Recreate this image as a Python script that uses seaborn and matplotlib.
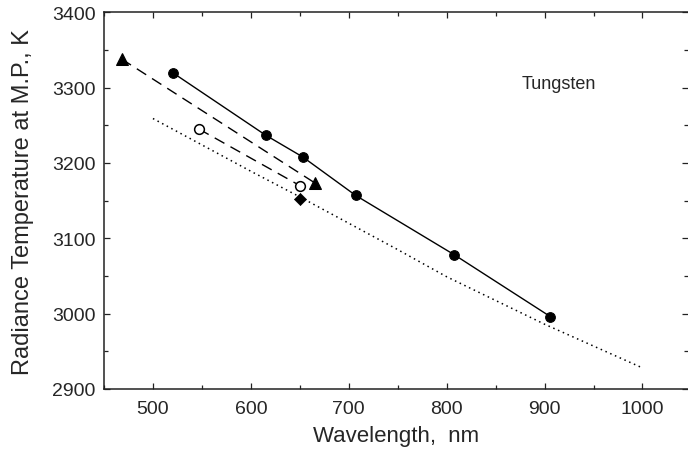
import matplotlib
matplotlib.use("Agg")
import matplotlib.pyplot as plt
from matplotlib.ticker import MultipleLocator
import seaborn as sns
import pandas as pd

# ---- data ----
solid_wl = [520, 615, 653, 707, 808, 906]
solid_t = [3320, 3237, 3208, 3157, 3078, 2996]

tri_wl = [468, 666]
tri_t = [3338, 3173]

open_wl = [547, 650]
open_t = [3245, 3170]

diamond_wl = [650]
diamond_t = [3152]

dot_wl = [500, 600, 650, 700, 750, 800, 900, 1000]
dot_t = [3259, 3189, 3155, 3120, 3085, 3049, 2986, 2928]

label_text = "Tungsten"

sns.set_theme(style="ticks")
plt.rcParams['font.family'] = ['Liberation Sans', 'DejaVu Sans']

fig = plt.figure(figsize=(6.88, 4.52), dpi=100)
ax = fig.add_axes([104/688, 1 - 390/452, 1 - 104/688, (390 - 13.3)/452])

k = "black"
sns.lineplot(x=dot_wl, y=dot_t, ax=ax, color=k, linewidth=1.1,
             linestyle=(0, (1, 2.4)), sort=False)
sns.lineplot(x=solid_wl, y=solid_t, ax=ax, color=k, linewidth=1.0,
             marker="o", markersize=7, markeredgecolor=k, sort=False)
sns.lineplot(x=tri_wl, y=tri_t, ax=ax, color=k, linewidth=1.0,
             linestyle=(0, (8, 5)), marker="^", markersize=9,
             markeredgecolor=k, sort=False)
sns.lineplot(x=open_wl, y=open_t, ax=ax, color=k, linewidth=1.0,
             linestyle=(0, (8, 5)), marker="o", markersize=7,
             markerfacecolor="white", markeredgecolor=k, markeredgewidth=1.1,
             sort=False)
sns.scatterplot(x=diamond_wl, y=diamond_t, ax=ax, color=k, marker="D",
                s=38, edgecolor=k, zorder=5)

ax.set_xlim(450, 1046.5)
ax.set_ylim(2900, 3400)
ax.xaxis.set_major_locator(MultipleLocator(100))
ax.xaxis.set_minor_locator(MultipleLocator(50))
ax.yaxis.set_major_locator(MultipleLocator(100))
ax.yaxis.set_minor_locator(MultipleLocator(50))

for s in ["left", "bottom", "top"]:
    ax.spines[s].set_visible(True)
    ax.spines[s].set_linewidth(1.1)
    ax.spines[s].set_color("#222222")
ax.spines["right"].set_visible(False)

ax.tick_params(which="both", direction="in", top=True, right=True,
               color="#222222", width=0.9)
ax.tick_params(which="major", length=4, labelsize=14, pad=6)
ax.tick_params(which="minor", length=3)
ax.tick_params(axis="x", which="major", pad=8)

ax.set_xlabel("Wavelength,  nm", fontsize=16, labelpad=6)
ax.set_ylabel("Radiance Temperature at M.P., K", fontsize=17, labelpad=13)

ax.text(877, 3305, label_text, fontsize=13, va="center", ha="left")

fig.savefig("out.png", dpi=100)
